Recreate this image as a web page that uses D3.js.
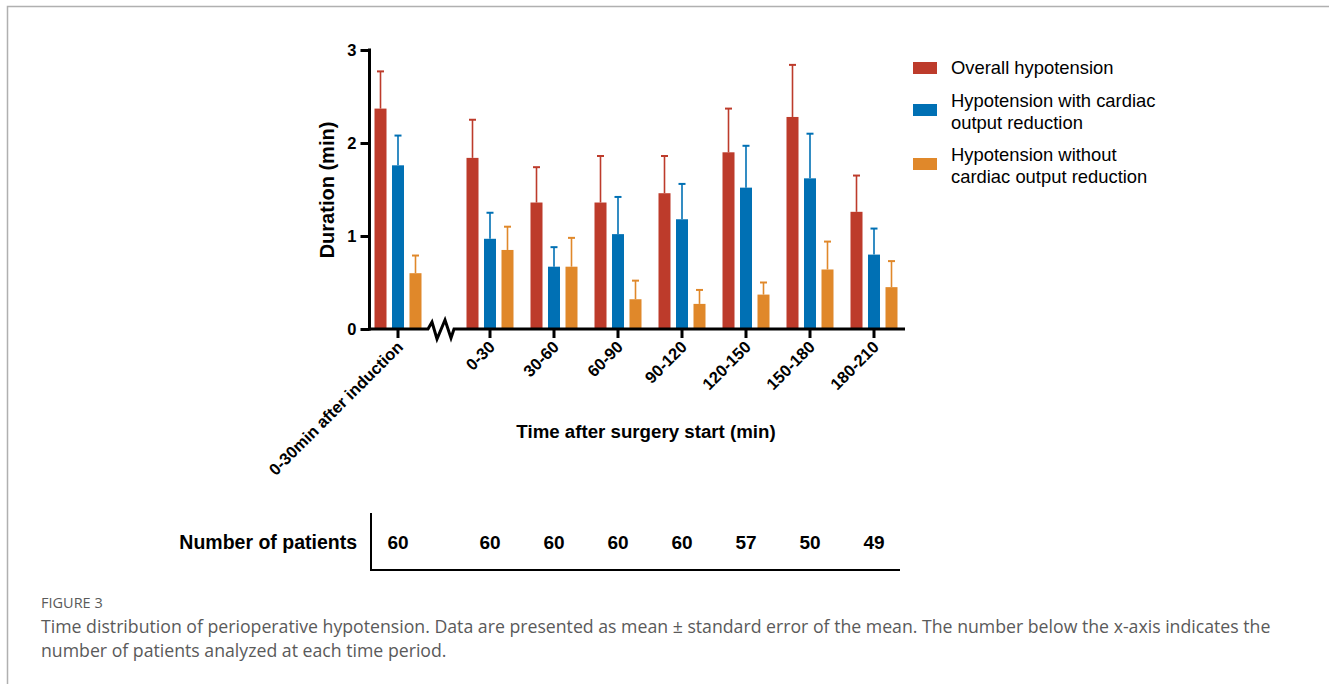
<!DOCTYPE html>
<html>
<head>
<meta charset="utf-8">
<script src="https://cdn.jsdelivr.net/npm/d3@7"></script>
<style>
  body { margin: 0; background: #fff; }
  svg text { font-family: "Liberation Sans", Arial, sans-serif; }
  .bold { font-weight: bold; fill: #000; }
  .cap { font-family: "Open Sans", sans-serif !important; fill: #5a5a5a; }
</style>
</head>
<body>
<svg id="chart" width="1329" height="684"></svg>
<script>
// categories
var induction = "0-30min after induction";
var periods = ["0-30", "30-60", "60-90", "90-120", "120-150", "150-180", "180-210"];
var categories = [induction].concat(periods);
var series = ["Overall hypotension", "Hypotension with cardiac output reduction", "Hypotension without cardiac output reduction"];
var legendLines = [["Overall hypotension"], ["Hypotension with cardiac", "output reduction"], ["Hypotension without", "cardiac output reduction"]];

// mean duration (min) per category
var overall   = [2.37, 1.84, 1.36, 1.36, 1.46, 1.90, 2.28, 1.26];
var withCO    = [1.76, 0.97, 0.67, 1.02, 1.18, 1.52, 1.62, 0.80];
var withoutCO = [0.60, 0.85, 0.67, 0.32, 0.27, 0.37, 0.64, 0.45];
// standard error of the mean
var overallSE   = [0.40, 0.41, 0.38, 0.50, 0.40, 0.47, 0.56, 0.39];
var withCOSE    = [0.32, 0.28, 0.21, 0.40, 0.38, 0.45, 0.48, 0.28];
var withoutCOSE = [0.19, 0.25, 0.31, 0.20, 0.15, 0.13, 0.30, 0.28];

var patients = [60, 60, 60, 60, 60, 57, 50, 49];
var yTicks = [0, 1, 2, 3];

var colors = ["#bd3b2b", "#0070b4", "#e0882a"];
var means = [overall, withCO, withoutCO];
var errs = [overallSE, withCOSE, withoutCOSE];

var svg = d3.select("#chart");

// frame
svg.append("path").attr("d", "M7.5,684 V6.5 H1329")
  .attr("fill", "none").attr("stroke", "#b0b0b0").attr("stroke-width", 1.5);

var y = d3.scaleLinear().domain([0, 3]).range([329, 50]);
var xp = d3.scalePoint().domain(periods).range([490, 874]);
var breakGap = 92;
function xc(c) { return c == induction ? xp(periods[0]) - breakGap : xp(c); }
var xs = d3.scaleBand().domain(series).range([-23.5, 23.5]).paddingInner(0.314);

var rows = [];
categories.forEach(function(c, i) {
  series.forEach(function(s, j) {
    rows.push({cat: c, s: s, j: j, v: means[j][i], e: errs[j][i]});
  });
});

var g = svg.append("g");

// error bars (upper only)
var eb = g.selectAll(".err").data(rows).enter().append("g").attr("class", "err")
  .attr("stroke", d => colors[d.j]).attr("stroke-width", 1.6);
eb.append("line")
  .attr("x1", d => xc(d.cat) + xs(d.s) + xs.bandwidth() / 2)
  .attr("x2", d => xc(d.cat) + xs(d.s) + xs.bandwidth() / 2)
  .attr("y1", d => y(d.v)).attr("y2", d => y(d.v + d.e));
eb.append("line")
  .attr("x1", d => xc(d.cat) + xs(d.s) + xs.bandwidth() / 2 - 3.5)
  .attr("x2", d => xc(d.cat) + xs(d.s) + xs.bandwidth() / 2 + 3.5)
  .attr("y1", d => y(d.v + d.e)).attr("y2", d => y(d.v + d.e))
  .attr("stroke-width", 2);

// bars
g.selectAll(".bar").data(rows).enter().append("rect").attr("class", "bar")
  .attr("x", d => xc(d.cat) + xs(d.s))
  .attr("width", xs.bandwidth())
  .attr("y", d => y(d.v))
  .attr("height", d => y(0) - y(d.v))
  .attr("fill", d => colors[d.j]);

// y axis
var yAxis = svg.append("g").attr("transform", "translate(369.5,0)")
  .call(d3.axisLeft(y).tickValues(yTicks).tickSize(9).tickPadding(4).tickFormat(d3.format("d")));
yAxis.select(".domain").attr("d", "M0," + (y(3) - 1.5) + "V" + (y(0) + 1.5)).attr("stroke-width", 3);
yAxis.selectAll(".tick line").attr("stroke-width", 3);
yAxis.selectAll(".tick text").attr("class", "bold").style("font-size", "16.5px")
  .style("font-family", "Liberation Sans, Arial, sans-serif");

// x axis with break
var bx = xc(induction) + 30;
var y0 = y(0);
var zig = [[0, 0], [4, -7], [9, 10], [17, -9], [23, 9], [26, 0]];
var xline = d3.line();
svg.append("path")
  .attr("d", xline([[369.5 - 1.5, y0], [bx, y0]].concat(zig.map(p => [bx + p[0], y0 + p[1]])).concat([[905, y0]])))
  .attr("fill", "none").attr("stroke", "#000").attr("stroke-width", 3).attr("stroke-linejoin", "miter");

svg.selectAll(".xtick").data(categories).enter().append("line")
  .attr("x1", d => xc(d)).attr("x2", d => xc(d))
  .attr("y1", y0).attr("y2", y0 + 9)
  .attr("stroke", "#000").attr("stroke-width", 3);

svg.selectAll(".xlab").data(categories).enter().append("text")
  .attr("class", "bold")
  .attr("transform", d => "translate(" + (xc(d) + 2) + "," + (y0 + 15) + ") rotate(-45)")
  .attr("text-anchor", "end")
  .attr("dy", "0.35em")
  .style("font-size", "16.5px")
  .text(d => d);

// axis titles
svg.append("text").attr("class", "bold")
  .attr("transform", "translate(334,190) rotate(-90)")
  .attr("text-anchor", "middle")
  .style("font-size", "20px")
  .text("Duration (min)");

svg.append("text").attr("class", "bold")
  .attr("x", 646).attr("y", 438)
  .attr("text-anchor", "middle")
  .style("font-size", "18.7px")
  .text("Time after surgery start (min)");

// legend
var leg = svg.selectAll(".leg").data(legendLines).enter().append("g")
  .attr("transform", (d, i) => "translate(913," + [62, 104, 158][i] + ")");
leg.append("rect").attr("width", 24).attr("height", 12).attr("fill", (d, i) => colors[i]);
leg.append("text").attr("x", 38).attr("y", d => d.length > 1 ? 3 : 12)
  .style("font-size", "18.4px").attr("fill", "#000")
  .selectAll("tspan").data(d => d).enter().append("tspan")
  .attr("x", 38).attr("dy", (d, i) => i == 0 ? 0 : 22)
  .text(d => d);

// patients table
svg.append("path").attr("d", "M371,513 V570 H900")
  .attr("fill", "none").attr("stroke", "#000").attr("stroke-width", 2);
svg.append("text").attr("class", "bold")
  .attr("x", 357).attr("y", 549).attr("text-anchor", "end")
  .style("font-size", "19.5px").text("Number of patients");
svg.selectAll(".npat").data(categories).enter().append("text")
  .attr("class", "bold")
  .attr("x", d => xc(d)).attr("y", 549).attr("text-anchor", "middle")
  .style("font-size", "19px")
  .text((d, i) => patients[i]);

// caption
svg.append("text").attr("class", "cap").attr("x", 41).attr("y", 608)
  .style("font-size", "14.5px").text("FIGURE 3");
svg.append("text").attr("class", "cap").attr("x", 41).attr("y", 633)
  .style("font-size", "17.7px")
  .text("Time distribution of perioperative hypotension. Data are presented as mean \u00b1 standard error of the mean. The number below the x-axis indicates the");
svg.append("text").attr("class", "cap").attr("x", 41).attr("y", 657)
  .style("font-size", "17.7px")
  .text("number of patients analyzed at each time period.");
</script>
</body>
</html>
